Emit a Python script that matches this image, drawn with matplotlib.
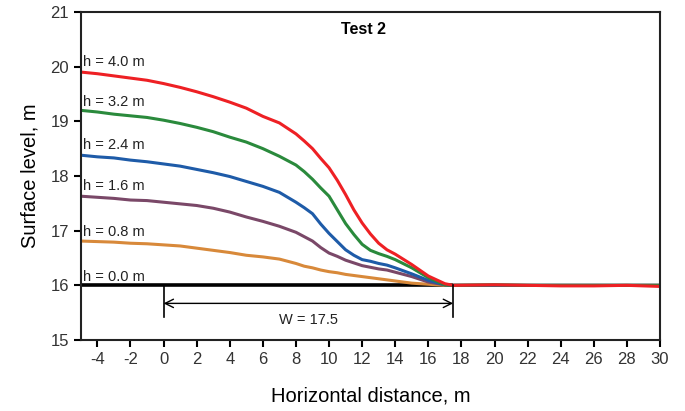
import matplotlib
matplotlib.use("Agg")
import matplotlib.pyplot as plt

plt.rcParams["font.family"] = ["Liberation Sans", "DejaVu Sans"]
plt.rcParams["axes.unicode_minus"] = False

# distances along the slope (m)
x = [-5, -4, -3, -2, -1, 0, 1, 2, 3, 4, 5,
     6, 7, 8, 8.5, 9, 9.5, 10, 10.5, 11, 11.5, 12, 12.5, 13, 13.5, 14, 15, 16, 17, 17.5,
     20, 22, 24, 26, 28, 30]

# surface levels (m) for each water head h
h40 = [19.90, 19.87, 19.83, 19.79, 19.75, 19.69, 19.62, 19.54, 19.45, 19.35, 19.24,
       19.09, 18.97, 18.77, 18.64, 18.50, 18.32, 18.15, 17.92, 17.66, 17.38, 17.14,
       16.94, 16.77, 16.65, 16.57, 16.38, 16.17, 16.03, 16.00,
       16.01, 16.00, 15.99, 15.99, 16.00, 15.98]
h32 = [19.20, 19.17, 19.13, 19.10, 19.07, 19.02, 18.96, 18.89, 18.81, 18.71, 18.62,
       18.50, 18.36, 18.20, 18.08, 17.94, 17.78, 17.63, 17.38, 17.13, 16.93, 16.75,
       16.64, 16.58, 16.53, 16.47, 16.32, 16.14, 16.01, 16.00,
       16.01, 16.00, 16.00, 16.00, 16.00, 16.00]
h24 = [18.38, 18.35, 18.33, 18.29, 18.26, 18.22, 18.18, 18.12, 18.06, 17.99, 17.90,
       17.81, 17.70, 17.52, 17.42, 17.31, 17.12, 16.95, 16.80, 16.65, 16.55, 16.47,
       16.44, 16.40, 16.37, 16.32, 16.21, 16.09, 16.01, 16.00,
       16.00, 16.00, 16.00, 16.00, 16.00, 16.00]
h16 = [17.63, 17.61, 17.59, 17.56, 17.55, 17.52, 17.49, 17.46, 17.41, 17.34, 17.25,
       17.17, 17.08, 16.97, 16.89, 16.81, 16.69, 16.59, 16.53, 16.46, 16.41, 16.36,
       16.33, 16.30, 16.28, 16.24, 16.16, 16.06, 16.01, 16.00,
       16.00, 16.00, 16.00, 16.00, 16.00, 16.00]
h08 = [16.81, 16.80, 16.79, 16.77, 16.76, 16.74, 16.72, 16.68, 16.64, 16.60, 16.55,
       16.52, 16.48, 16.40, 16.35, 16.32, 16.28, 16.25, 16.23, 16.20, 16.18, 16.16,
       16.14, 16.12, 16.10, 16.08, 16.04, 16.02, 16.00, 16.00,
       16.00, 16.00, 16.00, 16.00, 16.00, 16.00]

labels = ["h = 0.0 m", "h = 0.8 m", "h = 1.6 m", "h = 2.4 m", "h = 3.2 m", "h = 4.0 m"]
label_y = [16.16, 16.98, 17.82, 18.56, 19.36, 20.09]
W = 17.5
base = 16.0

fig = plt.figure(figsize=(6.85, 4.11), dpi=100)
ax = fig.add_axes([0.118, 0.1727, 0.8455, 0.7983])

ax.plot([-5, W], [base, base], color="black", lw=2.6, solid_capstyle="butt")
ax.plot(x, h08, color="#d8893a", lw=2.2)
ax.plot(x, h16, color="#7a4868", lw=2.2)
ax.plot(x, h24, color="#1e5ba8", lw=2.2)
ax.plot(x, h32, color="#2a8a3c", lw=2.2)
ax.plot(x, h40, color="#ee2024", lw=2.2)

for lab, ly in zip(labels, label_y):
    ax.text(-4.85, ly, lab, fontsize=10.5, va="center", ha="left", color="#222222")

# width dimension
ax.plot([0, 0], [base, 15.42], color="black", lw=1.2)
ax.plot([W, W], [base, 15.42], color="black", lw=1.2)
ax.annotate("", xy=(0, 15.67), xytext=(W, 15.67),
            arrowprops=dict(arrowstyle="<->", color="black", lw=1.0,
                            shrinkA=0, shrinkB=0, mutation_scale=15))
ax.text(W / 2, 15.37, "W = " + str(W), fontsize=10.5, ha="center", va="center",
        color="#222222")

ax.text(12.1, 20.67, "Test 2", fontsize=11.5, fontweight="bold", ha="center",
        va="center")

ax.set_xlim(-5, 30)
ax.set_ylim(15, 21)
ax.set_xticks(range(-4, 31, 2))
ax.set_yticks(range(15, 22))
ax.tick_params(direction="out", length=5, width=1.5, labelsize=12,
               labelcolor="#333333", top=False, right=False)
for s in ax.spines.values():
    s.set_linewidth(1.5)
    s.set_color("#222222")

ax.set_xlabel("Horizontal distance, m", fontsize=14.5, labelpad=14)
ax.set_ylabel("Surface level, m", fontsize=14.5, labelpad=8)

fig.savefig("out.png", dpi=100)
